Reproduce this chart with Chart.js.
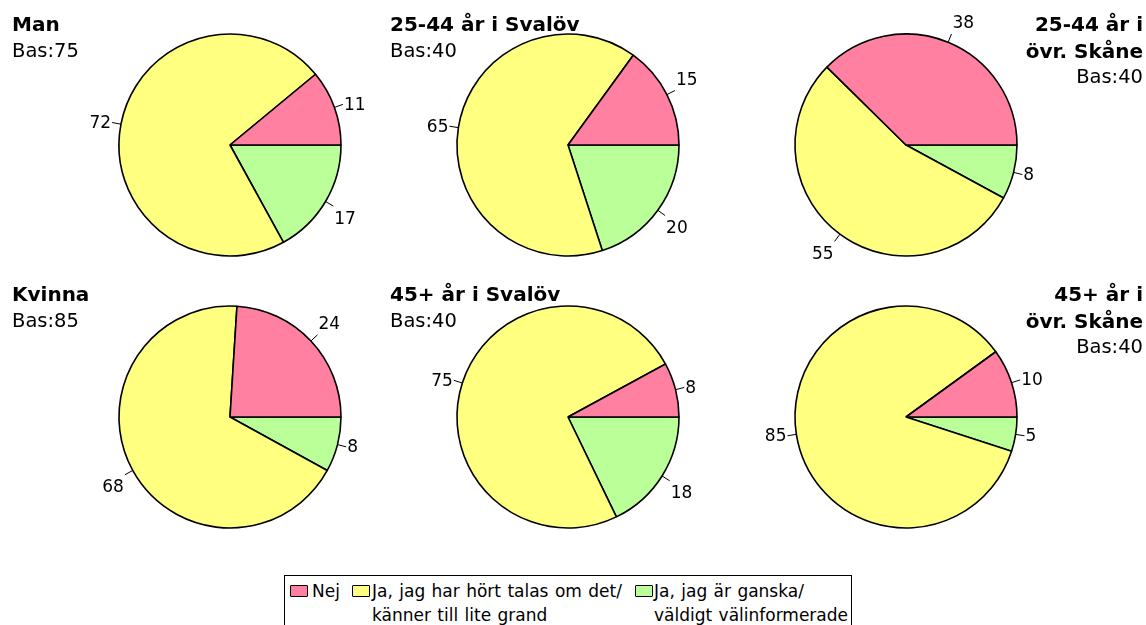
<!DOCTYPE html>
<html><head><meta charset="utf-8">
<script src="https://cdn.jsdelivr.net/npm/chart.js@4.4.1/dist/chart.umd.min.js"></script>
<style>
html,body{margin:0;padding:0;background:#fff;}
#wrap{position:relative;width:1146px;height:625px;overflow:hidden;font-family:"DejaVu Sans",sans-serif;color:#000;}
canvas{position:absolute;}
.title{position:absolute;white-space:nowrap;}
.title div{line-height:26.5px;height:26.5px;}
.title .h{font-weight:bold;font-size:20px;}
.title .b{font-size:19.5px;}
.title.right{text-align:right;}
#legend{position:absolute;left:284px;top:575px;width:566px;height:70px;border:1px solid #000;}
.sw{position:absolute;width:16px;height:10px;border:1px solid #000;border-radius:1px;}
.lt{position:absolute;font-size:17px;line-height:24px;white-space:nowrap;word-spacing:1px;}
</style></head>
<body><div id="wrap"></div>
<script>
// ---- data ----
const groupTitles = [["Man"], ["25-44 år i Svalöv"], ["25-44 år i", "övr. Skåne"],
                     ["Kvinna"], ["45+ år i Svalöv"], ["45+ år i", "övr. Skåne"]];
const bas = [75, 40, 40, 85, 40, 40];
const nej = [11, 15, 38, 24, 8, 10];
const hortTalas = [72, 65, 55, 68, 75, 85];
const valInformerad = [17, 20, 8, 8, 18, 5];
const categoryLabels = ["Nej", "Ja, jag har hört talas om det/\nkänner till lite grand", "Ja, jag är ganska/\nväldigt välinformerade"];
const colors = ["#FF80A0", "#FFFF80", "#BBFF99"];

// ---- layout ----
const wrap = document.getElementById('wrap');
const centersX = [230, 568, 906];
const canvasTops = [5, 277];
const titleTops = [11, 281];
const CW = 340, CH = 280;

const valueLabels = {
  id: 'valueLabels',
  afterDatasetsDraw(chart) {
    const ctx = chart.ctx;
    const meta = chart.getDatasetMeta(0);
    const ds = chart.data.datasets[0];
    ctx.save();
    ctx.font = '17px "DejaVu Sans", sans-serif';
    ctx.fillStyle = '#000';
    ctx.strokeStyle = '#000';
    ctx.lineWidth = 1;
    ctx.textBaseline = 'middle';
    meta.data.forEach((arc, j) => {
      const p = arc.getProps(['x', 'y', 'startAngle', 'endAngle', 'outerRadius'], true);
      const a = (p.startAngle + p.endAngle) / 2;
      const c = Math.cos(a), s = Math.sin(a);
      const r = p.outerRadius;
      const x1 = p.x + r * c, y1 = p.y + r * s;
      const x2 = p.x + (r + 9) * c, y2 = p.y + (r + 9) * s;
      ctx.beginPath(); ctx.moveTo(x1, y1); ctx.lineTo(x2, y2); ctx.stroke();
      let tx, ty;
      if (c >= 0) { ctx.textAlign = 'left'; tx = x2 + 1; } else { ctx.textAlign = 'right'; tx = x2 - 1; }
      if (s < -0.4) ty = y2 - 10; else if (s > 0.4) ty = y2 + 13; else ty = y2 + 1;
      ctx.fillText(String(ds.data[j]), tx, ty);
    });
    ctx.restore();
  }
};

for (let i = 0; i < 6; i++) {
  const row = Math.floor(i / 3), col = i % 3;
  const cv = document.createElement('canvas');
  cv.width = CW; cv.height = CH;
  cv.style.left = (centersX[col] - CW / 2) + 'px';
  cv.style.top = canvasTops[row] + 'px';
  wrap.appendChild(cv);
  new Chart(cv, {
    type: 'pie',
    data: {
      labels: [categoryLabels[2], categoryLabels[1], categoryLabels[0]],
      datasets: [{
        data: [valInformerad[i], hortTalas[i], nej[i]],
        backgroundColor: [colors[2], colors[1], colors[0]],
        borderColor: '#000',
        borderWidth: 1.6
      }]
    },
    options: {
      responsive: false,
      animation: false,
      events: [],
      rotation: 90,
      radius: 111,
      layout: { padding: 0 },
      plugins: { legend: { display: false }, tooltip: { enabled: false }, title: { display: false } }
    },
    plugins: [valueLabels]
  });

  // titles
  const t = document.createElement('div');
  const right = col === 2;
  t.className = 'title' + (right ? ' right' : '');
  t.style.top = titleTops[row] + 'px';
  if (right) t.style.right = '3px'; else t.style.left = (col === 0 ? 12 : 390) + 'px';
  let html = '';
  groupTitles[i].forEach(line => { html += '<div class="h">' + line + '</div>'; });
  html += '<div class="b">Bas:' + bas[i] + '</div>';
  t.innerHTML = html;
  wrap.appendChild(t);
}

// legend
const lg = document.createElement('div');
lg.id = 'legend';
wrap.appendChild(lg);
const swX = [5, 67, 350];
const txX = [27, 87, 369];
categoryLabels.forEach((lab, k) => {
  const sw = document.createElement('div');
  sw.className = 'sw';
  sw.style.left = swX[k] + 'px';
  sw.style.top = '9px';
  sw.style.background = colors[k];
  lg.appendChild(sw);
  const tx = document.createElement('div');
  tx.className = 'lt';
  tx.style.left = txX[k] + 'px';
  tx.style.top = '3px';
  tx.innerHTML = lab.split('\n').join('<br>');
  lg.appendChild(tx);
});
</script>
</body></html>
